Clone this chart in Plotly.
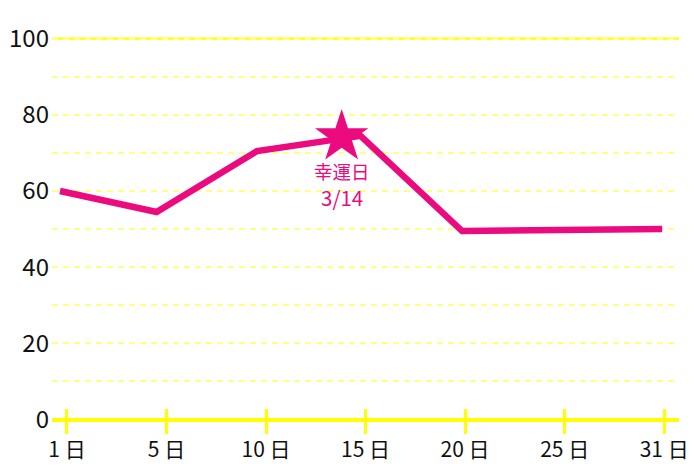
import plotly.graph_objects as go

# x positions are in "tick slot" units (ticks are equally spaced)
tick_pos = [0, 1, 2, 3, 4, 5, 6]
tick_labels = ["1 日", "5 日", "10 日", "15 日", "20 日", "25 日", "31 日"]

line_x = [-0.07, 0.9, 1.91, 2.76, 2.95, 3.97, 5.98]
line_y = [60, 54.5, 70.5, 73.5, 74.5, 49.5, 50]

lucky_x = [2.76]
lucky_y = [74.2]
lucky_title = "幸運日"
lucky_date = "3/14"

y_ticks = [0, 20, 40, 60, 80, 100]

PINK = "#ec0a7f"
YELLOW = "#ffff00"
LIGHT_YELLOW = "#ffff80"
FONT = "Noto Sans CJK JP"

fig = go.Figure()
fig.add_trace(go.Scatter(
    x=line_x, y=line_y, mode="lines",
    line=dict(color=PINK, width=6.5),
    hoverinfo="skip", showlegend=False,
))
fig.add_trace(go.Scatter(
    x=lucky_x, y=lucky_y, mode="markers",
    marker=dict(symbol="star", size=40, color=PINK, line=dict(width=0)),
    hoverinfo="skip", showlegend=False,
))

fig.add_annotation(
    x=lucky_x[0], y=lucky_y[0], text=lucky_title, showarrow=False,
    yshift=-34, borderpad=0,
    font=dict(family=FONT, size=18.5, color=PINK),
)
fig.add_annotation(
    x=lucky_x[0], y=lucky_y[0], text=lucky_date, showarrow=False,
    yshift=-60, borderpad=0,
    font=dict(family=FONT, size=20.5, color=PINK),
)

fig.add_shape(type="line", xref="paper", x0=0, x1=1, yref="y", y0=100, y1=100,
              line=dict(color=YELLOW, width=2.3), layer="below")

fig.update_layout(
    width=700, height=467,
    margin=dict(l=52, r=20.5, t=33.3, b=33.2, autoexpand=False),
    paper_bgcolor="white", plot_bgcolor="white",
    font=dict(family=FONT, color="#111111"),
    xaxis=dict(
        range=[-0.1506, 6.149], automargin=False,
        tickmode="array", tickvals=tick_pos, ticktext=tick_labels,
        ticks="inside", ticklen=25, tickwidth=3.3, tickcolor=YELLOW,
        showgrid=False, zeroline=False, showline=False,
        tickfont=dict(family=FONT, size=21, color="#111111"),
        ticklabelstandoff=1,
    ),
    yaxis=dict(
        range=[-3.8, 101.5], automargin=False,
        tickmode="array", tickvals=y_ticks,
        showgrid=True, gridcolor=LIGHT_YELLOW, gridwidth=2, griddash="6px,5px",
        minor=dict(dtick=10, tick0=0, showgrid=True, gridcolor=LIGHT_YELLOW,
                   gridwidth=2, griddash="6px,5px", ticks=""),
        zeroline=True, zerolinecolor=YELLOW, zerolinewidth=4,
        showline=False, ticks="",
        tickfont=dict(family=FONT, size=24, color="#111111"),
        ticklabelstandoff=2,
    ),
)

fig.write_html(
    "out.html",
    config={"displayModeBar": False},
    post_script="document.body.style.margin='0';document.body.style.overflow='hidden';",
)
